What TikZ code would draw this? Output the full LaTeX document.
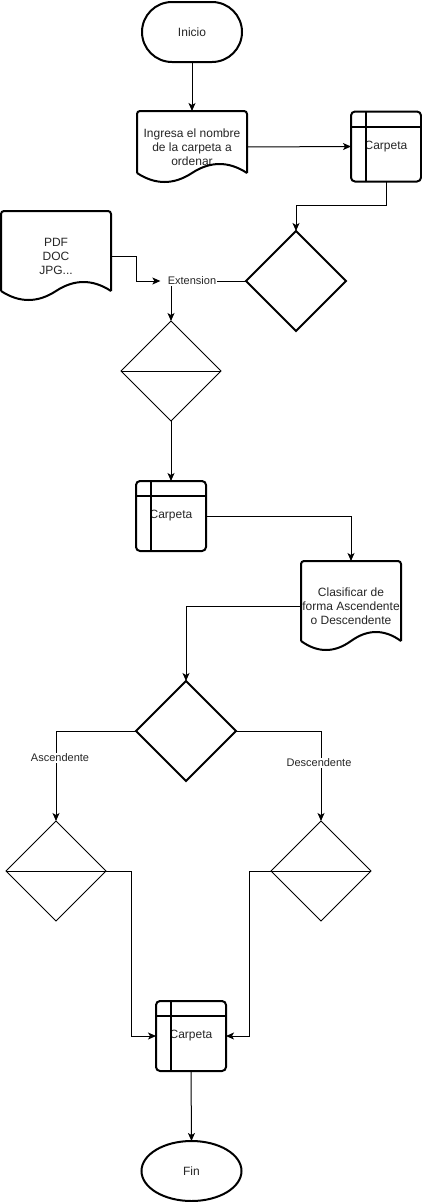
\documentclass[tikz,border=0pt]{standalone}
\usepackage{fontspec}
\setmainfont{Liberation Sans}
\usetikzlibrary{shapes.geometric,arrows.meta,calc}
\newcommand\drawdocshape[1]{%
  \draw[line width=2pt, rounded corners=3pt] ($(#1.south west)+(0,-10)$) -- (#1.north west) -- (#1.north east) -- ($(#1.south east)+(0,-10)$);
  \draw[line width=2pt] ($(#1.south east)+(0,-10)$)
    .. controls ($(#1.south east)!1/3!(#1.south)+(0,-22)$) and ($(#1.south)!1/3!(#1.south east)+(0,-22)$) .. ($(#1.south)+(0,-10)$)
    .. controls ($(#1.south)!1/3!(#1.south west)+(0,2)$) and ($(#1.south west)!1/3!(#1.south)+(0,2)$) .. ($(#1.south west)+(0,-10)$);
}
\newcommand\drawstorelines[1]{%
  \draw[line width=2pt] ([yshift=-15pt]#1.north west) -- ([yshift=-15pt]#1.north east);
  \draw[line width=2pt] ([xshift=15pt]#1.north west) -- ([xshift=15pt]#1.south west);
}
\begin{document}
\begin{tikzpicture}[x=1pt,y=-1pt,
  txt/.style={font=\fontsize{12}{14}\selectfont, text=black!85, align=center},
  lbl/.style={font=\fontsize{11}{13}\selectfont, text=black!85, fill=white, inner sep=1pt},
  term/.style={draw, line width=2pt, minimum width=100pt, minimum height=60pt, inner sep=0pt, outer sep=0pt, txt},
  storebox/.style={draw, line width=2pt, rounded corners=4pt, minimum width=70pt, minimum height=70pt, inner sep=0pt, outer sep=0pt, txt},
  docbox/.style={inner sep=0pt, outer sep=0pt, txt},
  bigdiam/.style={diamond, draw, line width=2pt, minimum width=100pt, minimum height=100pt, inner sep=0pt, outer sep=0pt},
  smalldiam/.style={diamond, draw, line width=1pt, minimum width=100pt, minimum height=100pt, inner sep=0pt, outer sep=0pt},
  edge/.style={line width=1pt, -{Stealth[length=8pt,width=7pt,inset=2pt]}}
]
\fill[white] (0,0) rectangle (422,1202);
\useasboundingbox (0,0) rectangle (422,1202);

% nodes
\node[term, rounded corners=30pt] (inicio) at (192,32) {Inicio};
\node[docbox, minimum width=110pt, minimum height=72pt] (doc1) at (192,147) {Ingresa el nombre\\de la carpeta a\\ordenar};
\node[storebox] (c1) at (386,146.5) {Carpeta};
\node[bigdiam] (d1) at (296,281) {};
\node[docbox, minimum width=110pt, minimum height=90pt] (pdf) at (56,256) {PDF\\DOC\\JPG...};
\node[smalldiam] (d2) at (171,371) {};
\node[storebox] (c2) at (171,516) {Carpeta};
\node[docbox, minimum width=100pt, minimum height=90pt] (doc3) at (351,606) {Clasificar de\\forma Ascendente\\o Descendente};
\node[bigdiam] (d3) at (186,731) {};
\node[smalldiam] (d4) at (56,871) {};
\node[smalldiam] (d5) at (321,871) {};
\node[storebox] (c3) at (191,1036) {Carpeta};
\node[term, ellipse] (fin) at (191.5,1171) {Fin};

% shape details
\drawdocshape{doc1}
\drawdocshape{pdf}
\drawdocshape{doc3}
\drawstorelines{c1}
\drawstorelines{c2}
\drawstorelines{c3}
\draw[line width=1pt] (d2.west) -- (d2.east);
\draw[line width=1pt] (d4.west) -- (d4.east);
\draw[line width=1pt] (d5.west) -- (d5.east);

% connectors
\draw[edge] (inicio.south) -- (doc1.north);
\draw[edge] (doc1.east) -- (c1.west);
\draw[edge] (c1.south) -- ++(0,24) -| (d1.north);
\draw[edge] (d1.west) -| (d2.north) node[lbl, pos=0.36] (ext) {Extension};
\draw[edge] (pdf.east) -- ++(25,0) |- ([xshift=-6pt]ext.west);
\draw[edge] (d2.south) -- (c2.north);
\draw[edge] (c2.east) -| (doc3.north);
\draw[edge] (doc3.west) -| (d3.north);
\draw[edge] (d3.west) -| (d4.north) node[lbl, pos=0.65, xshift=4pt] (asc) {Ascendente};
\draw[edge] (d3.east) -| (d5.north) node[lbl, pos=0.678, xshift=-2pt] (desc) {Descendente};
\draw[edge] (d4.east) -- ++(25,0) |- (c3.west);
\draw[edge] (d5.west) -- ++(-22,0) |- (c3.east);
\draw[edge] (c3.south) -- (fin.north);
\end{tikzpicture}
\end{document}
